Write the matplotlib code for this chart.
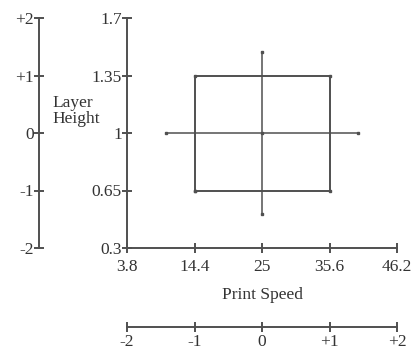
import matplotlib
matplotlib.use("Agg")
import matplotlib.pyplot as plt

# axis ticks
speed_ticks = [3.8, 14.4, 25, 35.6, 46.2]
speed_labels = ["3.8", "14.4", "25", "35.6", "46.2"]
height_ticks = [0.3, 0.65, 1, 1.35, 1.7]
height_labels = ["0.3", "0.65", "1", "1.35", "1.7"]
coded_ticks = [-2, -1, 0, 1, 2]
coded_labels = ["-2", "-1", "0", "+1", "+2"]

# design points (central composite)
square_speed = [14.4, 35.6, 35.6, 14.4, 14.4]
square_height = [0.65, 0.65, 1.35, 1.35, 0.65]
axial_speed = [10.0, 40.0]
axial_height = [0.505, 1.495]
center_speed = 25
center_height = 1

plt.rcParams["font.family"] = ["Liberation Serif", "DejaVu Serif"]
fs = 12.5
lc = "#505050"
lw = 1.4
tc = "#333333"

fig = plt.figure(figsize=(4.15, 3.54), dpi=100)

def style(ax, keep):
    for s in ["left", "right", "top", "bottom"]:
        ax.spines[s].set_visible(s in keep)
        ax.spines[s].set_color(lc)
        ax.spines[s].set_linewidth(lw)
    ax.tick_params(direction="inout", length=7.5, width=lw, color=lc,
                   labelsize=fs, pad=0, labelcolor=tc)
    ax.patch.set_alpha(0)

# main axes
ax = fig.add_axes([127/415, 1-248/354, 270/415, 230/354])
style(ax, ["left", "bottom"])
ax.set_xlim(speed_ticks[0], speed_ticks[-1])
ax.set_ylim(height_ticks[0], height_ticks[-1])
ax.set_xticks(speed_ticks)
ax.set_xticklabels(speed_labels)
ax.set_yticks(height_ticks)
ax.set_yticklabels(height_labels)
ax.tick_params(axis="x", pad=4)

ax.plot(square_speed, square_height, color=lc, lw=lw, marker="s", ms=1.8)
ax.plot(axial_speed, [center_height, center_height], color=lc, lw=1.1, marker="s", ms=1.6)
ax.plot([center_speed, center_speed], axial_height, color=lc, lw=1.1, marker="s", ms=1.6)
ax.plot([center_speed], [center_height], color=lc, marker="s", ms=1.8)

ax.set_xlabel("Print Speed", fontsize=fs, labelpad=9, color=tc)
fig.text(52/415, 1-111/354, "Layer\nHeight", fontsize=fs, ha="left", va="center",
         color=tc, linespacing=1.0)

# coded vertical axis
axl = fig.add_axes([39/415, 1-248/354, 0.01, 230/354])
style(axl, ["left"])
axl.set_ylim(-2, 2)
axl.set_yticks(coded_ticks)
axl.set_yticklabels(coded_labels)
axl.set_xticks([])

# coded horizontal axis
axb = fig.add_axes([127/415, 1-327/354, 270/415, 0.01])
style(axb, ["bottom"])
axb.set_xlim(-2, 2)
axb.set_xticks(coded_ticks)
axb.set_xticklabels(coded_labels)
axb.set_yticks([])
axb.tick_params(axis="x", pad=1)

fig.savefig("out.png", dpi=100)
